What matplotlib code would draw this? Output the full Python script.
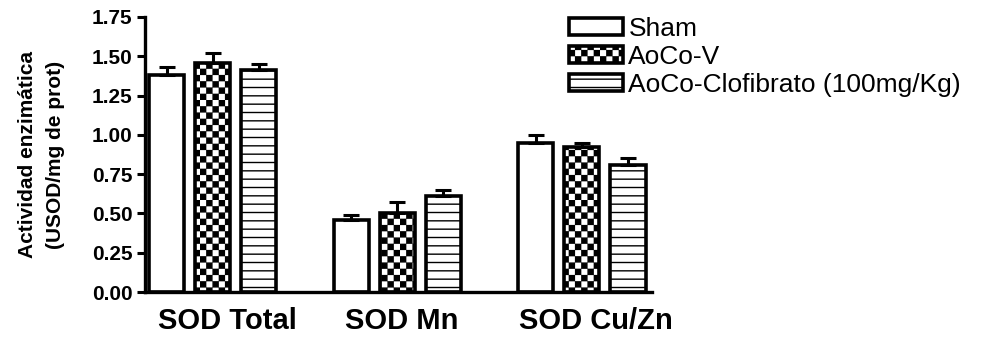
import warnings
import numpy as np
import matplotlib
matplotlib.use("Agg")
import matplotlib.pyplot as plt
import matplotlib.hatch as mhatch
import matplotlib.transforms as mtransforms

warnings.filterwarnings("ignore")

# ---- data -------------------------------------------------------------
categories = ["SOD Total", "SOD Mn", "SOD Cu/Zn"]
series_names = ["Sham", "AoCo-V", "AoCo-Clofibrato (100mg/Kg)"]
sham = [1.38, 0.46, 0.95]
sham_err = [0.05, 0.03, 0.05]
aoco_v = [1.46, 0.50, 0.92]
aoco_v_err = [0.06, 0.07, 0.03]
clofibrato = [1.41, 0.61, 0.81]
clofibrato_err = [0.04, 0.04, 0.04]
y_ticks = [0.00, 0.25, 0.50, 0.75, 1.00, 1.25, 1.50, 1.75]


# ---- checkerboard hatch -------------------------------------------------
class CheckerHatch(mhatch.HatchPatternBase):
    """Filled checkerboard squares, 16 cells per hatch unit per 'c'."""

    def __init__(self, hatch, density):
        self.cells = hatch.count("c") * 16
        self.num_vertices = 5 * (self.cells * self.cells // 2) if self.cells else 0

    def set_vertices_and_codes(self, vertices, codes):
        n = self.cells
        inset = 0.006
        k = 0
        for i in range(n):
            for j in range(n):
                if (i + j) % 2 == 0:
                    x0, y0 = i / n + inset, j / n + inset
                    x1, y1 = (i + 1) / n - inset, (j + 1) / n - inset
                    vertices[k:k + 5] = [[x0, y0], [x1, y0], [x1, y1], [x0, y1], [x0, y0]]
                    codes[k:k + 5] = [mhatch.Path.MOVETO, mhatch.Path.LINETO,
                                      mhatch.Path.LINETO, mhatch.Path.LINETO,
                                      mhatch.Path.CLOSEPOLY]
                    k += 5


mhatch._hatch_types.append(CheckerHatch)

plt.rcParams["font.family"] = ["Liberation Sans", "DejaVu Sans"]
plt.rcParams["hatch.linewidth"] = 1.0
plt.rcParams["hatch.color"] = "black"

fig = plt.figure(figsize=(9.86, 3.37), dpi=100)
ax = fig.add_axes([145 / 986, 1 - 292 / 337, (652 - 145) / 986, (292 - 17) / 337])

group_pos = np.arange(len(categories)) * 4.0
width = 0.76
values = [sham, aoco_v, clofibrato]
errors = [sham_err, aoco_v_err, clofibrato_err]
hatches = [None, "c", "--"]
offsets = [-1, 0, 1]

handles = []
for vals, errs, hatch, off, name in zip(values, errors, hatches, offsets, series_names):
    x = group_pos + off
    bars = ax.bar(x, vals, width, color="white", edgecolor="black",
                  linewidth=2.6, hatch=hatch, label=name, zorder=2)
    ax.errorbar(x, vals, yerr=[np.zeros(len(vals)), errs], fmt="none",
                ecolor="black", elinewidth=2.2, capsize=5.5, capthick=2.2, zorder=3)
    handles.append(bars)

ax.set_xlim(-1.466, 9.52)
ax.set_ylim(0, 1.75)
ax.set_yticks(y_ticks)
ax.set_yticklabels([f"{v:.2f}" for v in y_ticks], fontsize=15, fontweight="bold")
ax.set_xticks(group_pos)
ax.set_xticklabels(categories, fontsize=21, fontweight="bold")
ax.tick_params(axis="x", length=0, pad=11)
ax.tick_params(axis="y", length=6, width=2.2, pad=3, direction="out")

# nudge the category labels slightly to the right
for lbl, dx in zip(ax.get_xticklabels(), [11, 3, 10]):
    lbl.set_transform(lbl.get_transform() +
                      mtransforms.ScaledTranslation(dx / 72, 0, fig.dpi_scale_trans))

for side in ("top", "right"):
    ax.spines[side].set_visible(False)
for side in ("left", "bottom"):
    ax.spines[side].set_linewidth(2.4)

ax.set_ylabel("Actividad enzimática\n(USOD/mg de prot)", fontsize=15,
              fontweight="bold", linespacing=1.6)
ax.yaxis.set_label_coords(-0.158, 0.5)

leg = fig.legend(handles=handles, labels=series_names, loc="upper left",
                 bbox_to_anchor=(569 / 986, 1 - 17 / 337), frameon=False,
                 fontsize=19, handlelength=2.05, handleheight=0.6,
                 handletextpad=0.2, labelspacing=0.15, borderpad=0,
                 borderaxespad=0)
for p in leg.get_patches():
    p.set_linewidth(2.6)

fig.savefig("out.png", dpi=100)
